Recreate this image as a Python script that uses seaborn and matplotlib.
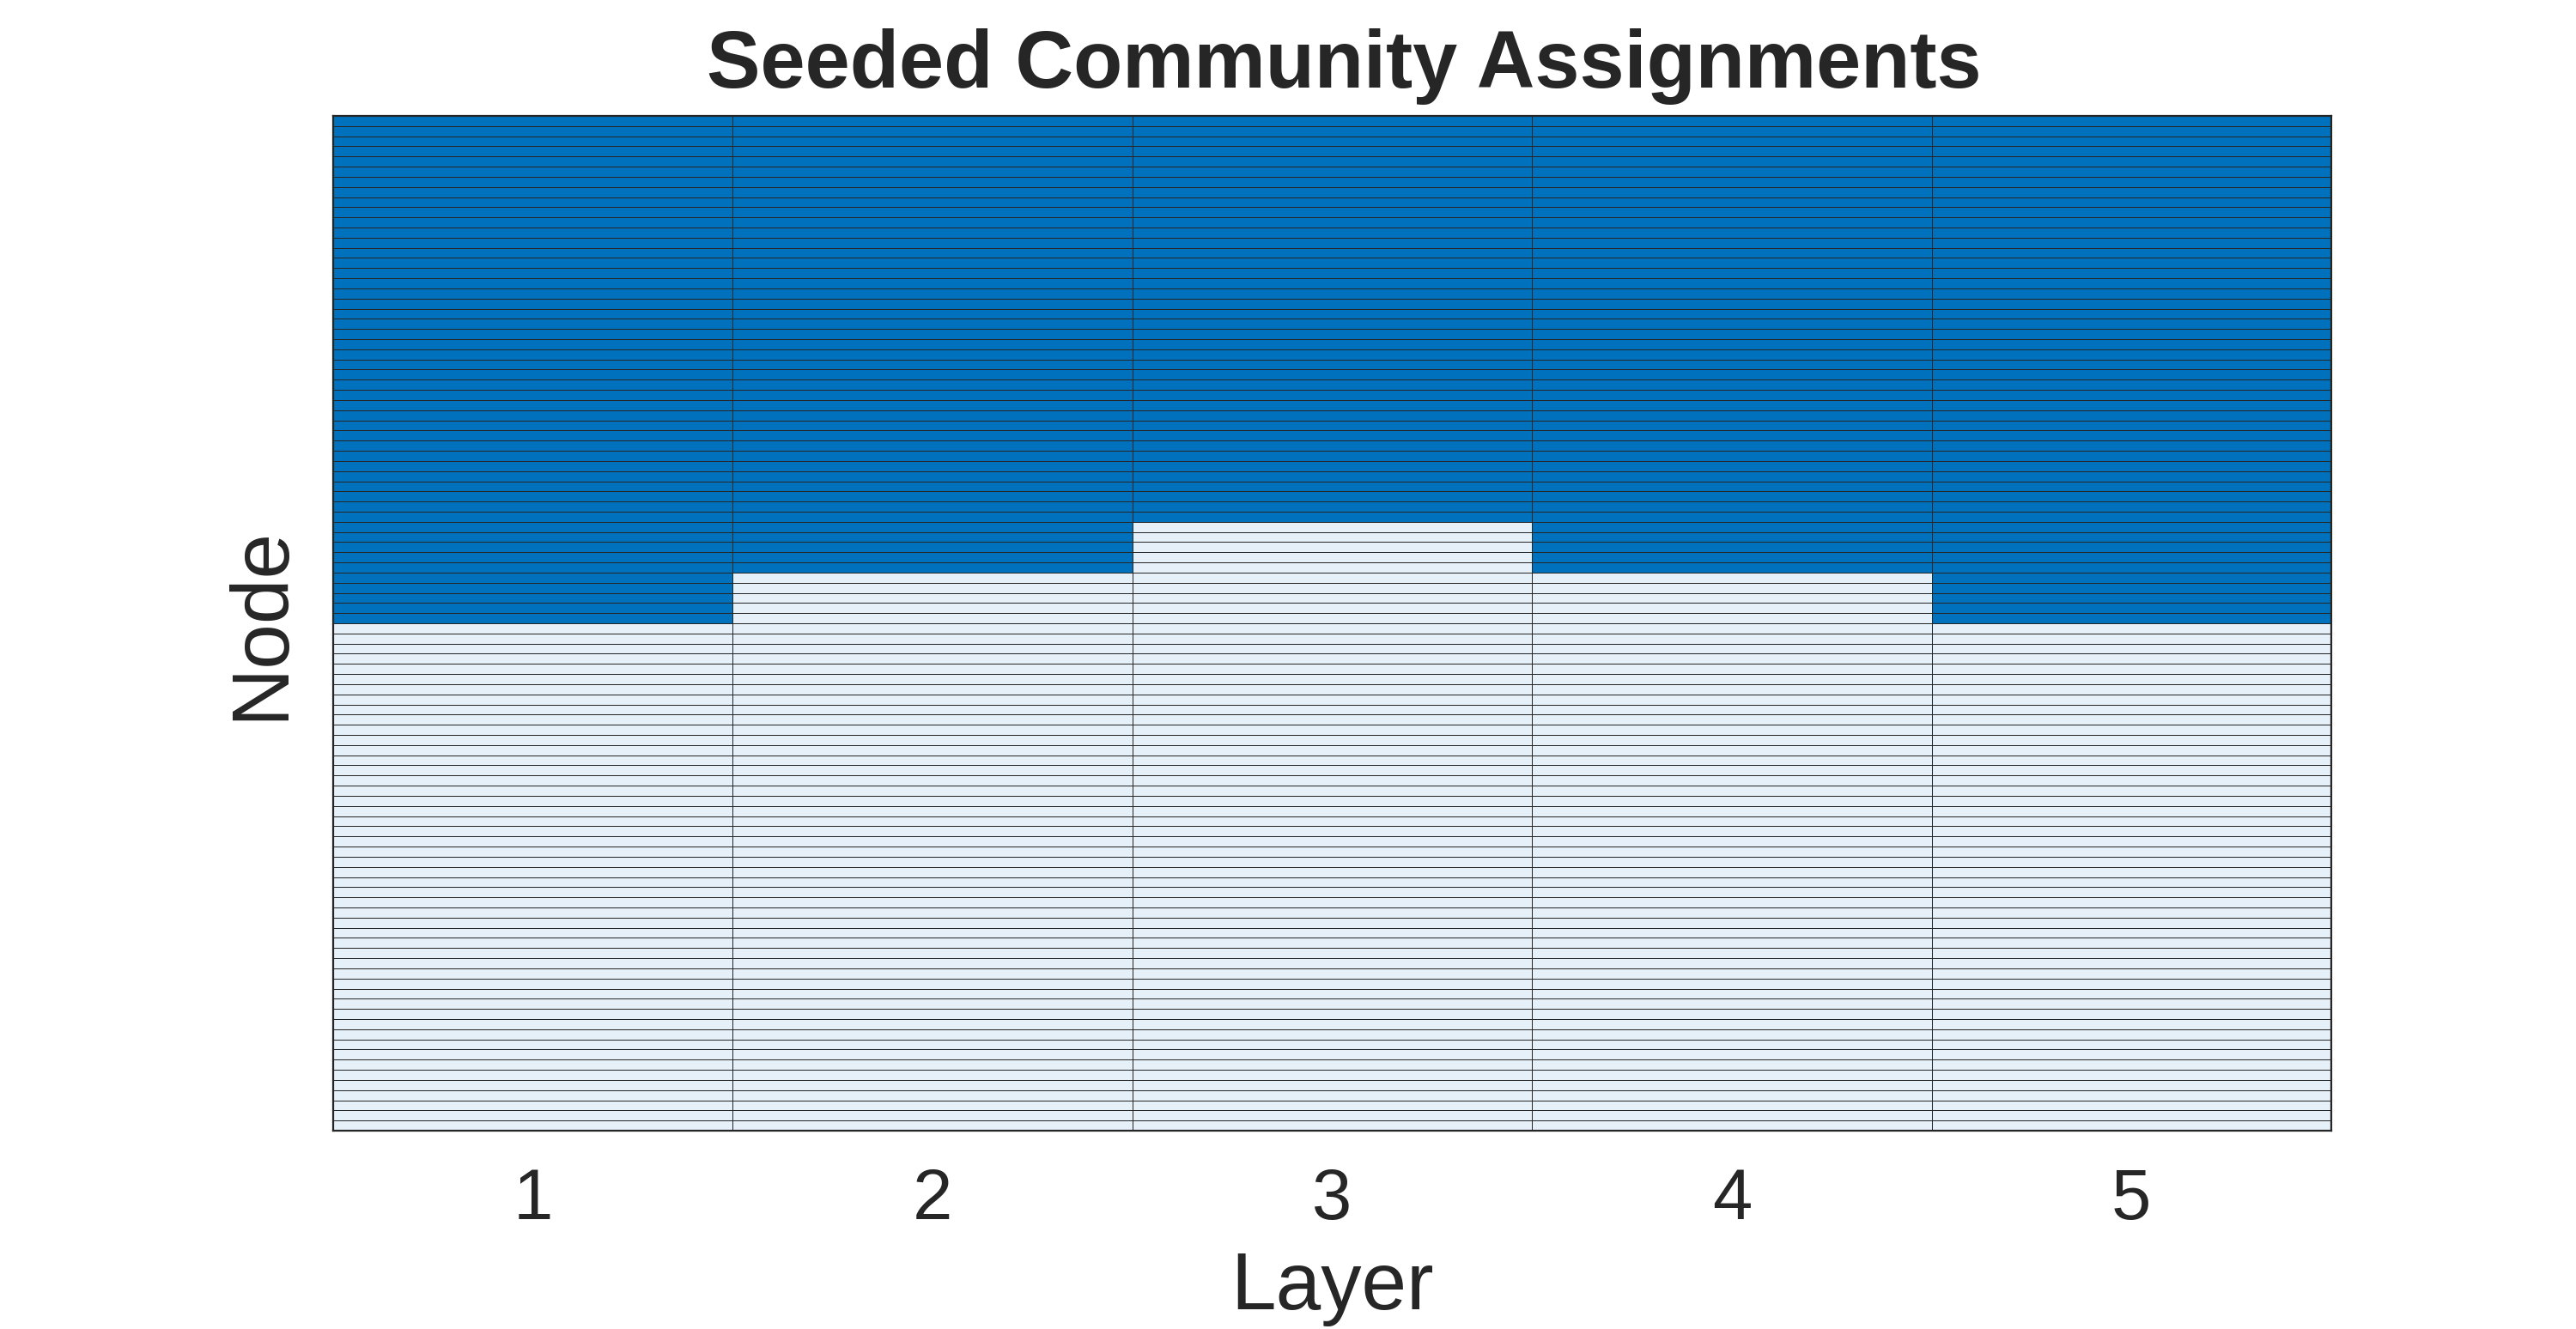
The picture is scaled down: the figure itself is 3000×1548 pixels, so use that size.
import numpy as np
import pandas as pd
import matplotlib
matplotlib.use("Agg")
import matplotlib.pyplot as plt
from matplotlib.colors import ListedColormap
import seaborn as sns

# ---- data ----
layers = [1, 2, 3, 4, 5]
n_nodes = 100
community_a_size = [50, 45, 40, 45, 50]   # nodes (from top) assigned to community 1 in each layer
community_labels = [1, 2]
community_colors = ["#0072BD", "#E6F0F9"]

# build assignment matrix (node x layer)
assign = np.full((n_nodes, len(layers)), community_labels[1])
for j, k in enumerate(community_a_size):
    assign[:k, j] = community_labels[0]
df = pd.DataFrame(assign, columns=layers, index=np.arange(1, n_nodes + 1))

sns.set_theme(style="white")
plt.rcParams["font.family"] = ["Liberation Sans", "DejaVu Sans"]

fig = plt.figure(figsize=(15, 7.74), dpi=200)
ax = fig.add_axes([0.1293, 0.1492, 0.9050 - 0.1293, 0.9128 - 0.1492])

sns.heatmap(df, ax=ax, cmap=ListedColormap(community_colors), vmin=0.5, vmax=2.5,
            cbar=False, linewidths=0.35, linecolor="#262626", yticklabels=False)

for s in ax.spines.values():
    s.set_visible(True)
    s.set_color("#262626")
    s.set_linewidth(0.8)

ax.tick_params(axis="x", length=0, labelsize=30, pad=15, colors="#262626")
ax.tick_params(axis="y", length=0)
ax.set_xticklabels([str(l) for l in layers], rotation=0)
ax.set_xlabel("Layer", fontsize=34, color="#262626", labelpad=7)
ax.set_ylabel("Node", fontsize=34, color="#262626", labelpad=14)
ax.set_title("Seeded Community Assignments", fontsize=33.7, fontweight="bold",
             color="#262626", pad=12, x=0.506)

fig.savefig("out.png", dpi=200)
